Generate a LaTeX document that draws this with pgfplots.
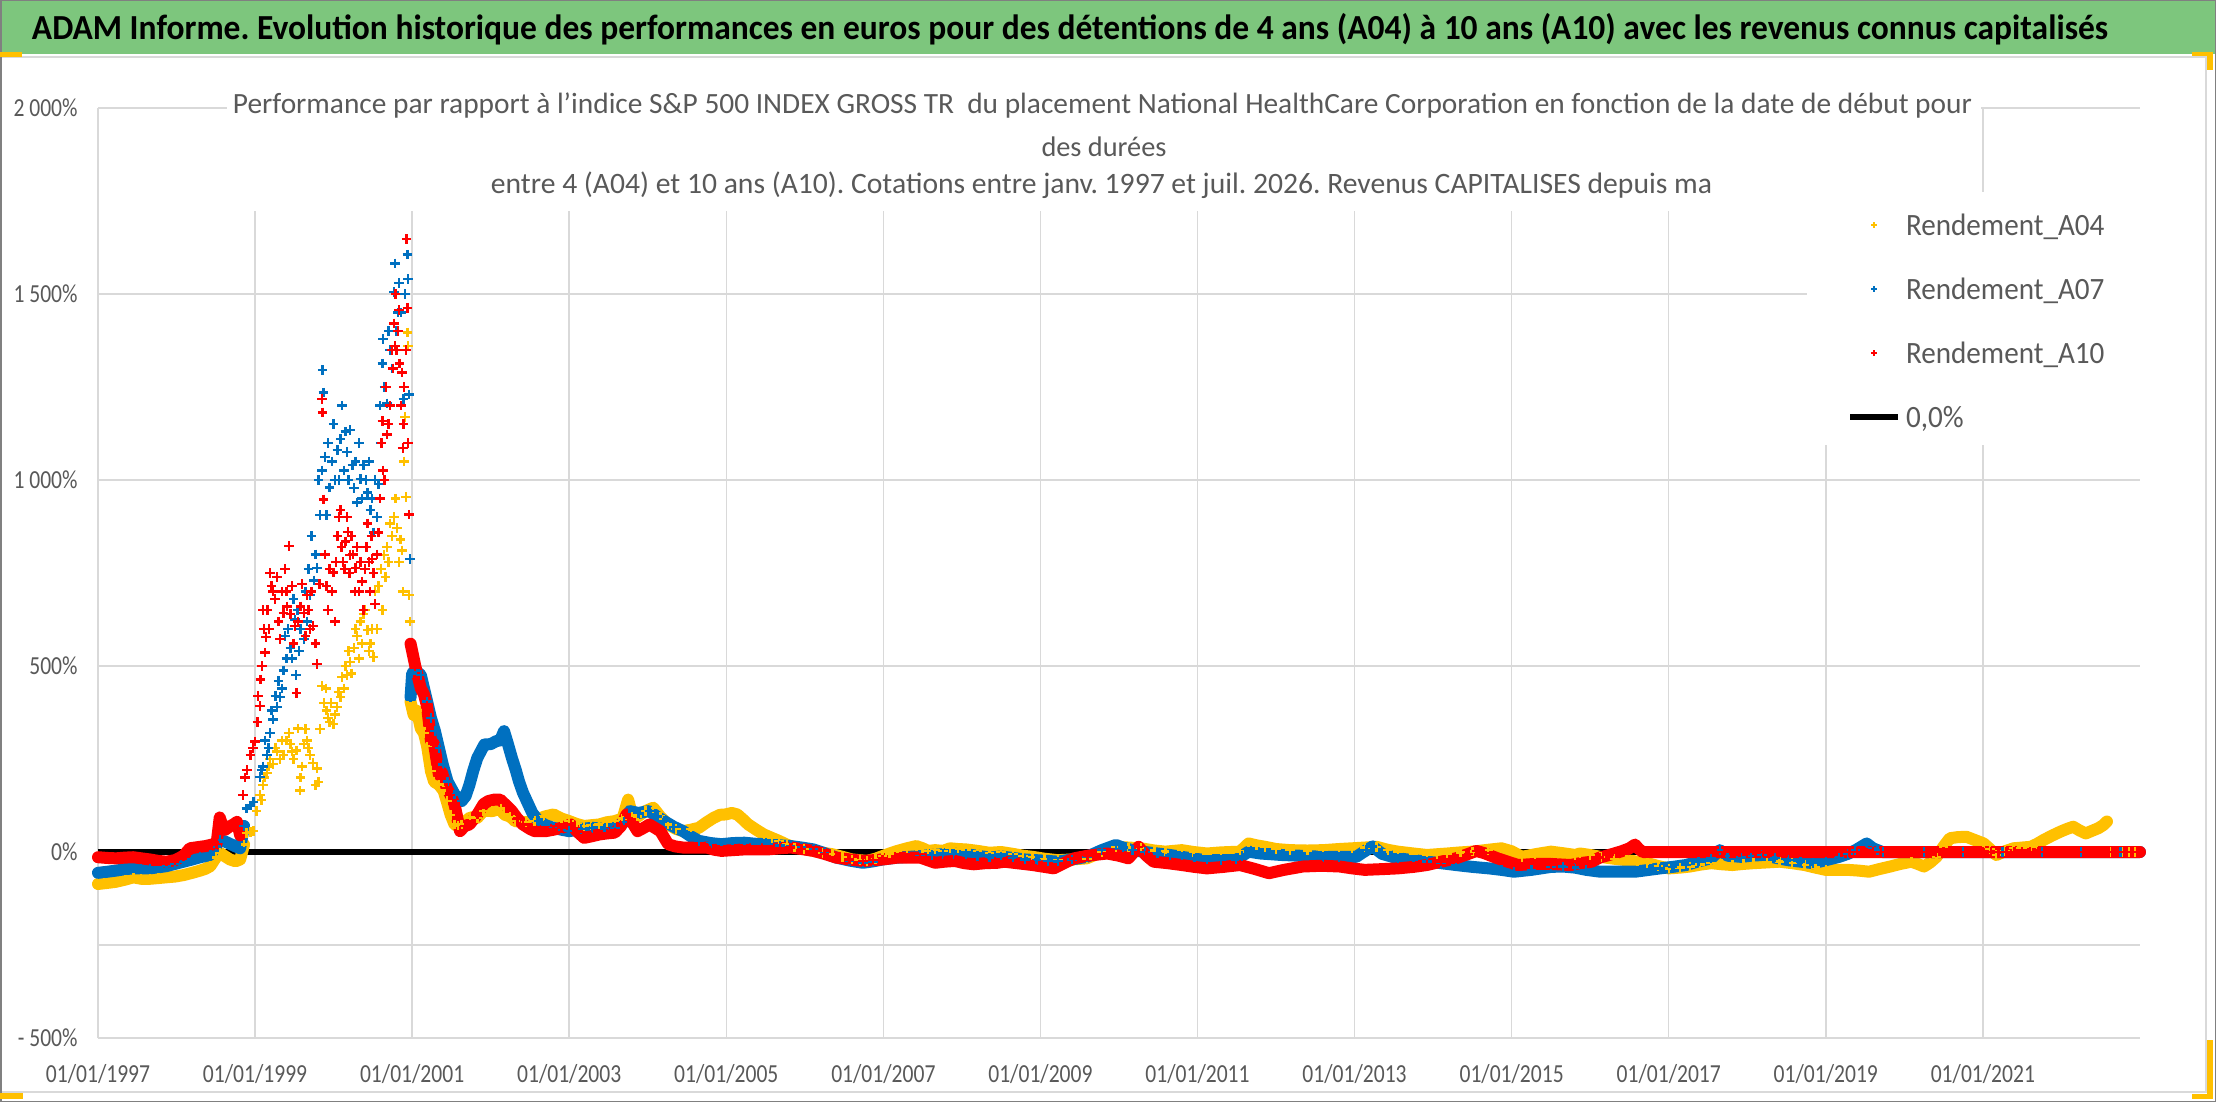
\documentclass[border=0pt]{standalone}
\usepackage{fontspec}
\setmainfont{Carlito}
\usepackage{graphicx}
\usepackage{pgfplots}
\pgfplotsset{compat=1.18}
\usepackage{pgfplotstable}
\definecolor{ayel}{HTML}{FFC000}
\definecolor{ablu}{HTML}{0070C0}
\definecolor{ared}{HTML}{FF0000}
\definecolor{txtgray}{HTML}{595959}
\definecolor{gridgray}{HTML}{D9D9D9}
\definecolor{framegray}{HTML}{808080}
\definecolor{bandgreen}{HTML}{7DC67D}
\newcommand\tlab[1]{\scalebox{0.83}[1]{#1}}

\pgfplotstableread{
x y
1997.00 -86
1997.08 -84
1997.16 -82
1997.23 -80
1997.35 -74
1997.45 -68
1997.55 -72
1997.66 -72
1997.77 -70
1997.87 -68
1997.98 -66
1998.09 -62
1998.20 -56
1998.30 -50
1998.37 -45
1998.43 -38
1998.50 -15
1998.55 -2
1998.62 -12
1998.68 -20
1998.75 -25
1998.81 -20
1998.86 20
1998.89 51
1998.94 54
1998.98 57
1999.02 110
1999.06 153
1999.10 180
1999.15 213
1999.19 250
1999.23 237
1999.28 270
1999.32 250
1999.36 260
1999.40 300
1999.45 290
1999.49 250
1999.53 273
1999.55 332
1999.57 165
1999.60 230
1999.62 290
1999.66 300
1999.70 260
1999.74 240
1999.79 225
1999.81 189
1999.85 446
1999.88 400
1999.91 380
1999.95 350
2000.00 344
2000.04 390
2000.09 416
2000.13 440
2000.17 476
2000.21 510
2000.26 548
2000.30 580
2000.34 620
2000.38 640
2000.43 596
2000.47 560
2000.51 524
2000.55 600
2000.57 715
2000.60 760
2000.64 799
2000.68 820
2000.72 883
2000.77 900
2000.81 871
2000.85 840
2000.87 811
2000.90 1050
2000.91 1170
2000.92 954
2000.94 1397
2000.95 1361
2000.96 691
2000.97 620
1999.08 140
1999.12 200
1999.17 230
1999.26 280
1999.34 300
1999.43 320
1999.47 270
1999.58 200
1999.64 330
1999.68 280
1999.77 180
1999.83 330
1999.90 440
1999.93 360
1999.97 400
2000.02 370
2000.06 430
2000.11 470
2000.15 500
2000.19 540
2000.23 480
2000.28 600
2000.32 520
2000.36 560
2000.40 650
2000.45 540
2000.49 600
2000.53 700
2000.62 650
2000.66 740
2000.70 780
2000.74 850
2000.79 950
2000.83 780
2000.88 700
2000.98 404
2001.02 368
2001.06 380
2001.11 332
2001.15 320
2001.19 285
2001.24 217
2001.28 189
2001.34 181
2001.40 165
2001.44 137
2001.49 100
2001.54 74
2001.58 70
2001.63 74
2001.74 93
2001.83 92
2001.91 111
2002.02 110
2002.13 117
2002.17 101
2002.25 95
2002.31 83
2002.45 80
2002.56 83
2002.68 95
2002.80 101
2002.90 90
2003.00 83
2003.10 75
2003.19 70
2003.28 72
2003.38 74
2003.48 80
2003.58 83
2003.68 90
2003.75 141
2003.80 100
2003.87 95
2003.97 110
2004.07 119
2004.16 95
2004.26 74
2004.36 62
2004.45 56
2004.55 60
2004.65 65
2004.75 80
2004.84 92
2004.92 100
2004.99 101
2005.07 105
2005.14 101
2005.21 88
2005.28 74
2005.38 60
2005.48 47
2005.58 38
2005.67 30
2005.77 20
2005.87 12
2005.99 8
2006.11 3
2006.23 -2
2006.35 -6
2006.48 -13
2006.60 -20
2006.70 -22
2006.79 -24
2006.90 -18
2006.99 -11
2007.08 -4
2007.18 3
2007.30 10
2007.42 16
2007.50 10
2007.57 3
2007.66 5
2007.76 3
2007.85 10
2007.95 8
2008.05 7
2008.20 3
2008.35 -2
2008.50 0
2008.65 -5
2008.78 -10
2008.90 -13
2009.05 -18
2009.22 -22
2009.40 -20
2009.59 -17
2009.78 0
2009.96 14
2010.12 12
2010.28 10
2010.45 4
2010.59 1
2010.80 5
2010.95 0
2011.12 -4
2011.30 -1
2011.54 1
2011.65 23
2011.75 18
2011.86 14
2012.00 8
2012.18 5
2012.40 4
2012.60 5
2012.80 8
2012.97 10
2013.13 12
2013.28 14
2013.42 6
2013.55 1
2013.75 -4
2013.92 -8
2014.05 -6
2014.18 -4
2014.35 -1
2014.50 1
2014.70 6
2014.87 10
2015.00 2
2015.13 -13
2015.30 -6
2015.50 1
2015.68 -4
2015.81 -8
2015.87 -4
2016.00 -8
2016.13 -13
2016.30 -18
2016.46 -22
2016.60 -26
2016.73 -30
2016.87 -38
2017.00 -44
2017.14 -42
2017.27 -39
2017.40 -34
2017.54 -30
2017.68 -33
2017.81 -35
2017.95 -32
2018.08 -30
2018.25 -28
2018.41 -26
2018.57 -30
2018.73 -35
2018.87 -42
2019.00 -48
2019.14 -48
2019.28 -48
2019.42 -50
2019.55 -53
2019.68 -46
2019.82 -39
2019.95 -32
2020.09 -26
2020.17 -32
2020.25 -39
2020.33 -28
2020.41 -13
2020.50 15
2020.58 37
2020.68 40
2020.79 41
2020.90 32
2021.01 23
2021.09 8
2021.17 -8
2021.28 2
2021.39 10
2021.50 12
2021.61 14
2021.69 22
2021.77 32
2021.88 44
2021.99 55
2022.07 62
2022.15 68
2022.23 58
2022.31 50
2022.39 57
2022.47 64
2022.53 72
2022.58 82
2022.62 0
2022.70 0
2022.78 0
2022.86 0
2022.94 0
2023.00 0
}\Afour

\pgfplotstableread{
x y
1997.00 -56
1997.12 -53
1997.23 -50
1997.35 -46
1997.45 -44
1997.55 -44
1997.66 -44
1997.77 -41
1997.87 -38
1997.98 -32
1998.09 -26
1998.20 -20
1998.30 -14
1998.43 -8
1998.50 15
1998.55 33
1998.62 28
1998.68 22
1998.75 15
1998.81 10
1998.86 70
1998.89 117
1998.94 125
1998.98 135
1999.06 201
1999.10 230
1999.15 260
1999.19 320
1999.23 356
1999.28 390
1999.32 416
1999.36 488
1999.40 520
1999.45 548
1999.51 625
1999.52 476
1999.56 540
1999.62 572
1999.66 620
1999.70 691
1999.75 730
1999.79 763
1999.83 906
1999.85 1026
1999.86 1295
1999.87 1235
1999.89 1062
1999.91 906
1999.95 980
1999.98 1050
2000.02 1000
2000.05 1080
2000.09 1110
2000.13 1026
2000.17 1075
2000.21 1134
2000.24 1040
2000.26 978
2000.30 940
2000.34 1002
2000.38 1040
2000.43 966
2000.47 920
2000.51 859
2000.55 900
2000.57 990
2000.60 1100
2000.62 1313
2000.63 1379
2000.68 1206
2000.72 1350
2000.77 1505
2000.78 1582
2000.80 1400
2000.83 1529
2000.86 1450
2000.89 1218
2000.94 1606
2000.95 1540
2000.96 1230
2000.97 787
1999.08 220
1999.13 300
1999.17 280
1999.21 380
1999.26 420
1999.30 460
1999.34 440
1999.38 580
1999.42 600
1999.47 520
1999.49 680
1999.54 650
1999.58 600
1999.64 700
1999.68 760
1999.72 850
1999.77 800
1999.81 1000
1999.93 1100
2000.00 1150
2000.07 1000
2000.11 1200
2000.15 1130
2000.19 1000
2000.28 1050
2000.32 1100
2000.36 950
2000.41 1000
2000.45 1050
2000.49 950
2000.53 1000
2000.59 1200
2000.65 1250
2000.70 1400
2000.75 1300
2000.82 1450
2000.91 1500
2000.98 416
2001.00 480
2001.04 488
2001.11 476
2001.19 405
2001.24 360
2001.29 325
2001.34 280
2001.39 235
2001.45 190
2001.54 155
2001.63 137
2001.68 150
2001.73 181
2001.78 220
2001.83 253
2001.92 289
2002.00 290
2002.07 298
2002.12 300
2002.17 325
2002.22 290
2002.27 253
2002.32 220
2002.36 190
2002.41 160
2002.46 137
2002.53 105
2002.61 83
2002.70 72
2002.80 65
2002.90 60
2003.00 56
2003.15 62
2003.29 65
2003.45 62
2003.58 65
2003.70 80
2003.77 110
2003.88 105
2004.02 110
2004.12 95
2004.21 83
2004.33 68
2004.45 56
2004.55 42
2004.65 30
2004.80 24
2004.94 21
2005.08 24
2005.23 25
2005.38 22
2005.53 21
2005.68 18
2005.82 16
2005.96 12
2006.11 7
2006.25 -3
2006.40 -15
2006.57 -23
2006.74 -29
2006.87 -25
2006.99 -20
2007.18 -15
2007.33 -13
2007.47 -11
2007.62 -8
2007.76 -6
2007.90 -5
2008.05 -6
2008.20 -10
2008.35 -15
2008.50 -12
2008.65 -16
2008.80 -20
2008.95 -22
2009.10 -24
2009.22 -26
2009.40 -20
2009.59 -13
2009.78 5
2009.96 19
2010.05 12
2010.17 5
2010.33 0
2010.49 -4
2010.65 -8
2010.80 -13
2010.96 -18
2011.12 -22
2011.30 -22
2011.49 -22
2011.57 -10
2011.65 1
2011.80 -4
2012.07 -8
2012.30 -10
2012.60 -13
2012.80 -13
2013.02 -13
2013.15 5
2013.23 15
2013.35 -5
2013.55 -17
2013.75 -22
2013.92 -26
2014.10 -30
2014.29 -35
2014.50 -40
2014.71 -44
2014.87 -48
2015.03 -53
2015.25 -48
2015.50 -40
2015.65 -39
2015.81 -42
2015.95 -48
2016.13 -53
2016.35 -53
2016.57 -53
2016.75 -48
2016.89 -44
2017.05 -40
2017.22 -35
2017.38 -25
2017.54 -17
2017.65 5
2017.75 -10
2017.92 -13
2018.05 -10
2018.19 -8
2018.35 -15
2018.52 -22
2018.68 -26
2018.84 -30
2019.00 -22
2019.17 -13
2019.28 -5
2019.38 5
2019.52 23
2019.60 10
2019.66 5
2019.72 0
2020.00 0
2020.25 0
2020.50 0
2020.75 0
2021.00 0
2021.25 0
2021.50 0
2021.75 0
2022.00 0
2022.25 0
2022.50 0
2022.75 0
2023.00 0
}\Aseven

\pgfplotstableread{
x y
1997.00 -14
1997.12 -16
1997.23 -17
1997.35 -15
1997.45 -14
1997.55 -17
1997.66 -20
1997.77 -24
1997.87 -26
1997.98 -22
1998.09 -10
1998.17 10
1998.30 14
1998.37 16
1998.45 20
1998.51 22
1998.55 93
1998.57 80
1998.62 60
1998.68 69
1998.73 75
1998.77 81
1998.81 45
1998.85 153
1998.90 220
1998.94 260
1999.00 297
1999.03 350
1999.06 392
1999.07 464
1999.10 650
1999.13 536
1999.14 578
1999.18 600
1999.21 715
1999.25 680
1999.28 739
1999.32 572
1999.36 643
1999.40 700
1999.43 823
1999.45 640
1999.47 715
1999.51 608
1999.53 428
1999.58 660
1999.62 643
1999.66 691
1999.70 600
1999.74 608
1999.79 506
1999.85 1218
1999.86 1182
1999.87 948
1999.91 715
1999.95 760
2000.00 751
2000.02 620
2000.05 850
2000.09 919
2000.12 780
2000.15 835
2000.18 860
2000.21 799
2000.25 800
2000.28 763
2000.32 700
2000.36 727
2000.40 760
2000.43 883
2000.46 700
2000.49 787
2000.53 667
2000.55 800
2000.57 859
2000.62 1158
2000.63 1026
2000.65 1000
2000.68 1122
2000.72 1200
2000.77 1421
2000.78 1361
2000.80 1350
2000.83 1457
2000.84 1313
2000.87 1289
2000.88 1086
2000.90 1250
2000.93 1648
2000.94 1463
2000.96 907
1998.87 200
1998.97 280
1999.04 420
1999.09 500
1999.11 600
1999.16 650
1999.19 750
1999.23 700
1999.30 620
1999.34 700
1999.38 760
1999.41 660
1999.49 560
1999.55 620
1999.60 720
1999.64 580
1999.68 650
1999.72 700
1999.77 560
1999.82 720
1999.89 800
1999.93 650
1999.98 700
2000.03 780
2000.07 900
2000.10 820
2000.14 760
2000.17 900
2000.20 750
2000.23 850
2000.27 700
2000.30 820
2000.34 780
2000.38 650
2000.42 820
2000.45 780
2000.48 850
2000.51 750
2000.59 950
2000.61 1100
2000.67 1250
2000.70 1150
2000.74 1350
2000.76 1300
2000.79 1500
2000.82 1400
2000.86 1200
2000.89 1150
2000.92 1350
2000.95 1100
2000.98 560
2001.04 500
2001.11 440
2001.15 424
2001.19 392
2001.24 298
2001.28 290
2001.34 208
2001.38 213
2001.44 172
2001.49 153
2001.54 128
2001.61 56
2001.67 70
2001.73 74
2001.83 101
2001.91 129
2001.97 137
2002.05 141
2002.12 141
2002.20 125
2002.27 110
2002.34 90
2002.41 74
2002.50 62
2002.56 56
2002.70 56
2002.80 60
2002.90 65
2003.02 74
2003.10 55
2003.19 38
2003.28 42
2003.38 47
2003.48 50
2003.58 52
2003.66 70
2003.73 101
2003.80 80
2003.87 56
2003.95 65
2004.02 74
2004.09 65
2004.16 56
2004.26 21
2004.35 15
2004.45 12
2004.60 12
2004.75 12
2004.85 6
2004.94 3
2005.08 5
2005.23 7
2005.38 7
2005.53 7
2005.68 10
2005.82 12
2005.96 8
2006.11 3
2006.25 -5
2006.40 -15
2006.57 -20
2006.74 -24
2006.87 -22
2006.99 -20
2007.18 -15
2007.33 -15
2007.47 -15
2007.66 -29
2007.78 -26
2007.91 -24
2008.03 -30
2008.15 -33
2008.30 -30
2008.45 -29
2008.54 -26
2008.70 -30
2008.90 -35
2009.05 -40
2009.17 -44
2009.30 -30
2009.43 -17
2009.60 -10
2009.85 -4
2010.00 -10
2010.12 -17
2010.25 14
2010.35 -10
2010.44 -26
2010.62 -30
2010.80 -35
2010.96 -40
2011.12 -44
2011.33 -40
2011.54 -35
2011.72 -45
2011.91 -57
2012.10 -48
2012.34 -39
2012.58 -37
2012.81 -39
2012.97 -44
2013.13 -48
2013.35 -46
2013.55 -44
2013.75 -40
2013.92 -35
2014.10 -26
2014.29 -17
2014.45 -5
2014.55 3
2014.65 -3
2014.82 -17
2014.95 -26
2015.08 -35
2015.30 -32
2015.50 -32
2015.75 -35
2015.87 -30
2016.02 -26
2016.12 -15
2016.24 -8
2016.40 2
2016.50 10
2016.57 20
2016.62 8
2016.67 0
2016.80 0
2016.90 0
2017.00 0
2017.10 0
2017.20 0
2017.30 0
2017.40 0
2017.50 0
2017.60 0
2017.70 0
2017.80 0
2017.90 0
2018.00 0
2018.10 0
2018.20 0
2018.30 0
2018.40 0
2018.50 0
2018.60 0
2018.70 0
2018.80 0
2018.90 0
2019.00 0
2019.10 0
2019.20 0
2019.30 0
2019.40 0
2019.50 0
2019.60 0
2019.70 0
2019.80 0
2019.90 0
2020.00 0
2020.10 0
2020.20 0
2020.30 0
2020.40 0
2020.50 0
2020.60 0
2020.70 0
2020.80 0
2020.90 0
2021.00 0
2021.10 0
2021.20 0
2021.30 0
2021.40 0
2021.50 0
2021.60 0
2021.70 0
2021.80 0
2021.90 0
2022.00 0
2022.10 0
2022.20 0
2022.30 0
2022.40 0
2022.50 0
2022.60 0
2022.70 0
2022.80 0
2022.90 0
2023.00 0
}\Aten

\begin{document}
\frenchspacing
\begin{tikzpicture}
\begin{scope}[x=0.5pt,y=-0.5pt]
\useasboundingbox (0,0) rectangle (2216,1102);
\fill[white] (0,0) rectangle (2216,1102);
\fill[bandgreen] (0,0) rectangle (2216,54);
\draw[gridgray, line width=0.75pt] (1,57) rectangle (2206,1092);
\draw[framegray, line width=0.75pt] (0.75,0.75) rectangle (2215.25,1101.25);
\fill[ayel] (0,52) rectangle (22,57);
\fill[ayel] (2192,52) rectangle (2213,56);
\fill[ayel] (2207,52) rectangle (2213,70);
\fill[ayel] (2207,1040) rectangle (2213,1099);
\fill[ayel] (2192,1094) rectangle (2213,1099);
\fill[ayel] (0,1093) rectangle (23,1099);
\end{scope}

\begin{axis}[
  at={(49pt,-519pt)}, anchor=south west,
  scale only axis, width=1021pt, height=465pt,
  xmin=1997, xmax=2023, ymin=-500, ymax=2000,
  clip=false,
  axis line style={draw=none},
  major tick length=0pt,
  xtick={1997,1999,...,2021},
  xticklabels={\tlab{01/01/1997},\tlab{01/01/1999},\tlab{01/01/2001},\tlab{01/01/2003},\tlab{01/01/2005},\tlab{01/01/2007},\tlab{01/01/2009},\tlab{01/01/2011},\tlab{01/01/2013},\tlab{01/01/2015},\tlab{01/01/2017},\tlab{01/01/2019},\tlab{01/01/2021}},
  ytick={-500,0,500,1000,1500,2000},
  yticklabels={\tlab{- 500\%},\tlab{0\%},\tlab{500\%},\tlab{1~000\%},\tlab{1~500\%},\tlab{2~000\%}},
  extra y ticks={-250}, extra y tick labels={},
  extra y tick style={grid=major, major grid style={gridgray, line width=0.75pt}},
  grid=major, major grid style={gridgray, line width=0.75pt},
  tick label style={font=\fontsize{13}{15}\selectfont, text=txtgray},
  xticklabel style={anchor=base, inner sep=0pt, yshift=-22pt},
  yticklabel style={anchor=base east, inner sep=0pt, xshift=-10pt, yshift=-4.25pt},
  legend style={at={(axis cs:2019.27,1717.6)}, anchor=north west, draw=none, fill=none,
     inner sep=0pt, outer sep=0pt, row sep=17pt, column sep=2.5pt,
     font=\fontsize{15.5}{18}\selectfont, text=txtgray,
     nodes={inner sep=0pt, text height=11pt, text depth=4pt, anchor=base west}},
  legend cell align=left,
  bandline/.style={line width=6pt, line join=round, line cap=round, forget plot},
  pts/.style={only marks, mark=+, mark size=2.4pt, line width=1.2pt},
]
\fill[white] (axis cs:1998.64,2030) rectangle (axis cs:2020.97,1722);
\fill[white] (axis cs:2018.76,1774) rectangle (axis cs:2023.2,1094);
\addplot[black, line width=3pt, forget plot] coordinates {(1997,0) (2023,0)};

\addplot[ayel, bandline, restrict x to domain=1997:1998.87] table {\Afour};
\addplot[ayel, bandline, restrict x to domain=2000.975:2022.6] table {\Afour};
\addplot[ayel, pts,
  legend image code/.code={\path (0pt,0pt) (24pt,0pt); \draw[ayel, line width=0.6pt, mark=+, mark size=1.3pt] plot coordinates {(12pt,5pt)};}] table {\Afour};
\addlegendentry{\scalebox{0.94}[1]{Rendement\_A04}}

\addplot[ablu, bandline, restrict x to domain=1997:1998.87] table {\Aseven};
\addplot[ablu, bandline, restrict x to domain=2000.975:2023] table {\Aseven};
\addplot[ablu, pts,
  legend image code/.code={\path (0pt,0pt) (24pt,0pt); \draw[ablu, line width=0.6pt, mark=+, mark size=1.3pt] plot coordinates {(12pt,5pt)};}] table {\Aseven};
\addlegendentry{\scalebox{0.94}[1]{Rendement\_A07}}

\addplot[ared, bandline, restrict x to domain=1997:1998.82] table {\Aten};
\addplot[ared, bandline, restrict x to domain=2000.975:2023] table {\Aten};
\addplot[ared, pts,
  legend image code/.code={\path (0pt,0pt) (24pt,0pt); \draw[ared, line width=0.6pt, mark=+, mark size=1.3pt] plot coordinates {(12pt,5pt)};}] table {\Aten};
\addlegendentry{\scalebox{0.94}[1]{Rendement\_A10}}

\addlegendimage{legend image code/.code={\draw[black, line width=3pt] (0pt,5pt) -- (24pt,5pt);}}
\addlegendentry{\scalebox{0.94}[1]{0,0\%}}
\end{axis}

\begin{scope}[x=0.5pt,y=-0.5pt]
\node[anchor=base, inner sep=0pt, text=black] at (1070,39.5)
  {\scalebox{1}[1.05]{\resizebox{1038pt}{!}{\bfseries ADAM Informe. Evolution historique des performances en euros pour des détentions de 4 ans (A04) à 10 ans (A10) avec les revenus connus capitalisés}}};
\node[anchor=base, inner sep=0pt, text=txtgray] at (1102.5,113.5)
  {\resizebox{869.5pt}{!}{Performance par rapport à l'indice S\&P 500 INDEX GROSS TR\ \ du placement National HealthCare Corporation en fonction de la date de début pour}};
\node[anchor=base, inner sep=0pt, text=txtgray] at (1104,156)
  {\resizebox{62.5pt}{!}{des durées}};
\node[anchor=base, inner sep=0pt, text=txtgray] at (1101.5,193.5)
  {\resizebox{610.5pt}{!}{entre 4 (A04) et 10 ans (A10). Cotations entre janv. 1997 et juil. 2026. Revenus CAPITALISES depuis ma}};
\end{scope}
\end{tikzpicture}
\end{document}
